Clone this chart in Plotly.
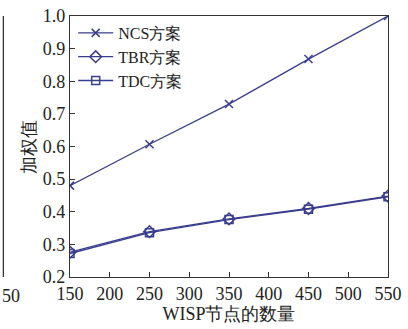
import plotly.graph_objects as go

x_nodes = [150, 250, 350, 450, 550]
ncs = [0.48, 0.607, 0.73, 0.868, 1.0]
tbr = [0.276, 0.339, 0.378, 0.410, 0.448]
tdc = [0.272, 0.336, 0.376, 0.408, 0.446]
x_ticks = [150, 200, 250, 300, 350, 400, 450, 500, 550]
y_ticks = [0.2, 0.3, 0.4, 0.5, 0.6, 0.7, 0.8, 0.9, 1.0]

line_color = "#3a3d8c"
font_family = "Liberation Serif"
text_color = "#222222"

fig = go.Figure()
fig.add_trace(go.Scatter(x=x_nodes, y=ncs, name="NCS方案", mode="lines+markers",
                         line=dict(color=line_color, width=1.3),
                         marker=dict(symbol="x-thin-open", size=8, line=dict(color=line_color, width=1.5))))
fig.add_trace(go.Scatter(x=x_nodes, y=tbr, name="TBR方案", mode="lines+markers",
                         line=dict(color=line_color, width=1.3),
                         marker=dict(symbol="diamond-open", size=9, color=line_color, line=dict(width=1.5))))
fig.add_trace(go.Scatter(x=x_nodes, y=tdc, name="TDC方案", mode="lines+markers",
                         line=dict(color=line_color, width=1.3),
                         marker=dict(symbol="square-open", size=8, color=line_color, line=dict(width=1.5))))

axis_common = dict(showgrid=False, zeroline=False, showline=True, linecolor="#333333", linewidth=1.3,
                   mirror=True, ticks="inside", ticklen=5, tickcolor="#333333", automargin=False,
                   tickfont=dict(family=font_family, size=18, color=text_color))

fig.update_xaxes(range=[150, 550], tickvals=x_ticks, ticktext=[str(v) for v in x_ticks],
                 title=dict(text="WISP节点的数量", font=dict(family=font_family, size=18, color=text_color), standoff=2),
                 **axis_common)
fig.update_yaxes(range=[0.2, 1.0], tickvals=y_ticks, ticktext=[f"{v:.1f}" for v in y_ticks],
                 title=dict(text="加权值", font=dict(family=font_family, size=18, color=text_color), standoff=2),
                 **axis_common)

# fragment of the neighbouring panel at the left edge
fig.add_shape(type="line", xref="paper", yref="paper", x0=-0.2095, x1=-0.2095, y0=0, y1=1,
              line=dict(color="#333333", width=1.3))
fig.add_annotation(text="50", xref="paper", yref="paper", x=-0.219, y=-0.025, xanchor="left", yanchor="top",
                   showarrow=False, font=dict(family=font_family, size=18, color=text_color))

fig.update_layout(
    width=408, height=329,
    margin=dict(l=70, r=20, t=16, b=52),
    paper_bgcolor="white", plot_bgcolor="white",
    showlegend=True,
    legend=dict(x=0.01, y=1.0, xanchor="left", yanchor="top", bgcolor="rgba(0,0,0,0)",
                font=dict(family=font_family, size=16, color=text_color), itemwidth=35,
                tracegroupgap=0),
)

fig.write_html("out.html", config={"displayModeBar": False},
               post_script="document.body.style.margin='0';document.body.style.padding='0';")
